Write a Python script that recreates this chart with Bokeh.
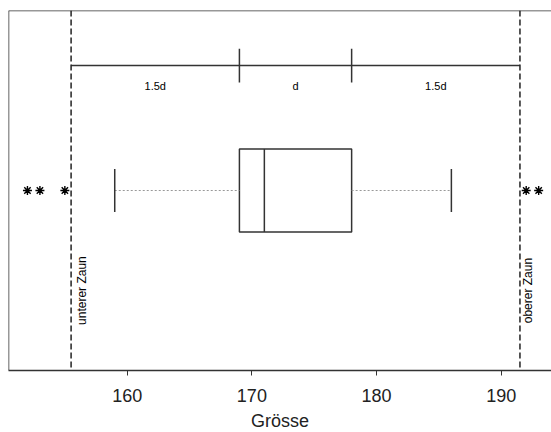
from bokeh.plotting import figure
from bokeh.models import FixedTicker, Span
from bokeh.embed import file_html
from bokeh.resources import INLINE
from bokeh.core.properties import value
import math

# data
q1 = 169
median = 171
q3 = 178
whisker_low = 159
whisker_high = 186
outliers_low = [152, 153, 155]
outliers_high = [192, 193]
tick_values = [160, 170, 180, 190]
bracket_labels = ["1.5d", "d", "1.5d"]
fence_labels = ["unterer Zaun", "oberer Zaun"]

d = q3 - q1
fence_low = q1 - 1.5 * d
fence_high = q3 + 1.5 * d

FONT = "Liberation Sans"
LC = "#333333"
X0, X1 = 150.48, 194.03

p = figure(frame_width=543, frame_height=360, x_range=(X0, X1), y_range=(0, 1),
           output_backend="svg", toolbar_location=None, y_axis_location=None,
           min_border_left=8, min_border_right=0, min_border_top=10, min_border_bottom=0)
p.outline_line_color = None
p.xgrid.visible = False
p.ygrid.visible = False
p.background_fill_color = "white"
p.border_fill_color = "white"

ax = p.xaxis[0]
ax.ticker = FixedTicker(ticks=tick_values)
ax.minor_tick_line_color = None
ax.major_tick_in = 0
ax.major_tick_out = 5
ax.major_tick_line_color = LC
ax.axis_line_color = LC
ax.axis_line_width = 1.5
ax.major_label_text_font = FONT
ax.major_label_text_font_size = "18px"
ax.major_label_text_color = "#222222"
ax.major_label_standoff = 13
ax.axis_label = "Grösse"
ax.axis_label_text_font = FONT
ax.axis_label_text_font_size = "18px"
ax.axis_label_text_font_style = "normal"
ax.axis_label_text_color = "#222222"
ax.axis_label_standoff = 6

# frame borders (left and top)
p.add_layout(Span(location=X0, dimension="height", line_color=LC, line_width=1.5))
p.add_layout(Span(location=1, dimension="width", line_color=LC, line_width=1.5))

# fences
for f in (fence_low, fence_high):
    p.add_layout(Span(location=f, dimension="height", line_color="#222222",
                      line_width=1.5, line_dash="6 3"))

# box
p.quad(left=[q1], right=[q3], bottom=[0.385], top=[0.615], fill_color=None,
       line_color=LC, line_width=1.5)
p.segment(x0=[median], x1=[median], y0=[0.385], y1=[0.615], line_color=LC, line_width=1.5)

# whiskers
p.segment(x0=[whisker_low, q3], x1=[q1, whisker_high], y0=[0.5, 0.5], y1=[0.5, 0.5],
          line_color="#999999", line_width=1.2, line_dash="2 2")
p.segment(x0=[whisker_low, whisker_high], x1=[whisker_low, whisker_high],
          y0=[0.44, 0.44], y1=[0.56, 0.56], line_color=LC, line_width=1.5)

# outliers
outs = outliers_low + outliers_high
p.scatter(x=outs, y=[0.5] * len(outs), marker="asterisk", size=9,
          line_color="black", line_width=1.4)

# bracket
p.segment(x0=[fence_low], x1=[fence_high], y0=[0.847], y1=[0.847], line_color=LC, line_width=1.5)
p.segment(x0=[q1, q3], x1=[q1, q3], y0=[0.8, 0.8], y1=[0.894, 0.894], line_color=LC, line_width=1.5)

mids = [(fence_low + q1) / 2, (q1 + q3) / 2, (q3 + fence_high) / 2]
p.text(x=mids, y=[0.79] * 3, text=bracket_labels, text_font=value(FONT),
       text_font_size="11px", text_align="center", text_baseline="middle", text_color="black")

# fence labels
p.text(x=[fence_low, fence_high], y=[0.222, 0.222], text=fence_labels,
       x_offset=[11, 8], angle=math.pi / 2, text_font=value(FONT),
       text_font_size="12px", text_align="center", text_baseline="middle", text_color="black")

open("out.html", "w").write(file_html(p, INLINE))
